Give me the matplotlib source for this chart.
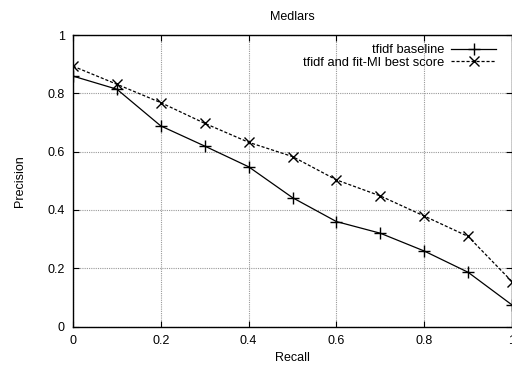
import matplotlib
matplotlib.use("Agg")
import matplotlib.pyplot as plt

plt.rcParams['font.family'] = ['Liberation Sans', 'DejaVu Sans']

recall = [0.0, 0.1, 0.2, 0.3, 0.4, 0.5, 0.6, 0.7, 0.8, 0.9, 1.0]
baseline = [0.859, 0.814, 0.688, 0.619, 0.548, 0.442, 0.360, 0.320, 0.259, 0.186, 0.074]
fitmi = [0.893, 0.831, 0.768, 0.697, 0.632, 0.583, 0.503, 0.448, 0.379, 0.309, 0.154]
xticks = [0, 0.2, 0.4, 0.6, 0.8, 1]
yticks = [0, 0.2, 0.4, 0.6, 0.8, 1]

fig = plt.figure(figsize=(5.12, 3.65), dpi=100)
ax = fig.add_axes([73/512, (365-326.5)/365, (512-73)/512, 291.5/365])

ax.plot(recall, baseline, color='black', lw=0.9, marker='+', ms=8, mew=1.0,
        label='tfidf baseline')
ax.plot(recall, fitmi, color='black', lw=0.9, ls=(0, (2.5, 1.5)), marker='x', ms=7.5, mew=1.0,
        label='tfidf and fit-MI best score')

ax.set_xlim(0, 1)
ax.set_ylim(0, 1)
ax.set_xticks(xticks)
ax.set_xticklabels(['0', '0.2', '0.4', '0.6', '0.8', '1'])
ax.set_yticks(yticks)
ax.set_yticklabels(['0', '0.2', '0.4', '0.6', '0.8', '1'])
ax.tick_params(direction='in', top=True, right=True, length=4, width=0.8,
               labelsize=9, colors='black', pad=6)
ax.grid(True, color='#999999', ls=(0, (1, 1)), lw=0.8)
for s in ax.spines.values():
    s.set_linewidth(1.0)

ax.set_xlabel('Recall', fontsize=9, labelpad=4)
ax.set_ylabel('Precision', fontsize=9, labelpad=15)
ax.set_title('Medlars', fontsize=9, pad=11)

leg = ax.legend(loc='upper right', markerfirst=False, frameon=False, fontsize=9.3,
                handlelength=3.5, handletextpad=0.5, borderaxespad=0.3,
                labelspacing=0.05, bbox_to_anchor=(0.985, 1.0))

fig.savefig('out.png', dpi=100)
